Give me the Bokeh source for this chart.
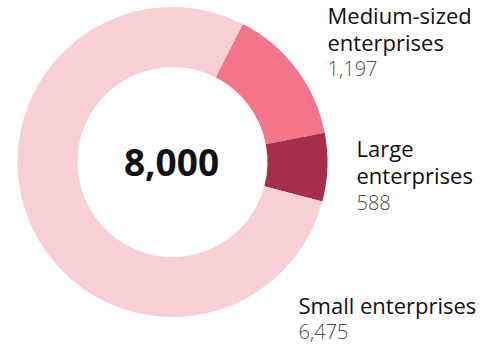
import math
from bokeh.plotting import figure
from bokeh.models import Range1d, ColumnDataSource
from bokeh.core.properties import value
from bokeh.embed import file_html
from bokeh.resources import INLINE

# Data (order clockwise starting at the medium-sized segment)
categories = ["Medium-sized enterprises", "Large enterprises", "Small enterprises"]
values = [1197, 588, 6475]
colors = ["#F3758A", "#A52E4C", "#F9CFD6"]
total_label = "8,000"

W, H = 504, 345
p = figure(width=W, height=H, output_backend="svg", toolbar_location=None,
           x_range=Range1d(0, W), y_range=Range1d(0, H), min_border=0)
p.axis.visible = False
p.grid.visible = False
p.outline_line_color = None
p.background_fill_color = "white"

cx, cy = 172, H - 161.5
start_offset = math.radians(27)  # clockwise from top
total = sum(values)
starts, ends = [], []
acc = 0.0
for v in values:
    a0 = start_offset + 2 * math.pi * acc / total
    acc += v
    a1 = start_offset + 2 * math.pi * acc / total
    starts.append(math.pi / 2 - a0)
    ends.append(math.pi / 2 - a1)

src = ColumnDataSource(dict(x=[cx] * 3, y=[cy] * 3, s=starts, e=ends, c=colors))
p.annular_wedge(x="x", y="y", inner_radius=95, outer_radius=155,
                start_angle="s", end_angle="e", direction="clock",
                fill_color="c", line_color=None, source=src)

K = 0.4  # baseline correction (fraction of font size)
font = value("Open Sans")
light = value("'Open Sans Light', 'Open Sans'")

def by(baseline, size):
    return H - (baseline - K * size)

p.text(x=[171], y=[by(177, 37)], text=[total_label], text_font=font,
       text_font_size="37px", text_font_style="bold", text_align="center",
       text_baseline="alphabetic", text_color="#111111")

# label layout: (x, [baselines for name lines], value baseline, name lines)
label_layout = [
    (327, [23, 50], 76, ["Medium-sized", "enterprises"]),
    (356, [156, 183], 210, ["Large", "enterprises"]),
    (298, [313], 339, ["Small enterprises"]),
]
LS, VS = 22, 20
for (lx, bls, vb, lines), v in zip(label_layout, values):
    p.text(x=[lx] * len(lines), y=[by(b, LS) for b in bls], text=lines, text_font=font,
           text_font_size=f"{LS}px", text_align="left", text_baseline="alphabetic",
           text_color="#111111")
    p.text(x=[lx], y=[by(vb, VS)], text=[f"{v:,}"], text_font=light,
           text_font_size=f"{VS}px", text_align="left", text_baseline="alphabetic",
           text_color="#4d4d4d")

open("out.html", "w").write(file_html(p, INLINE))
